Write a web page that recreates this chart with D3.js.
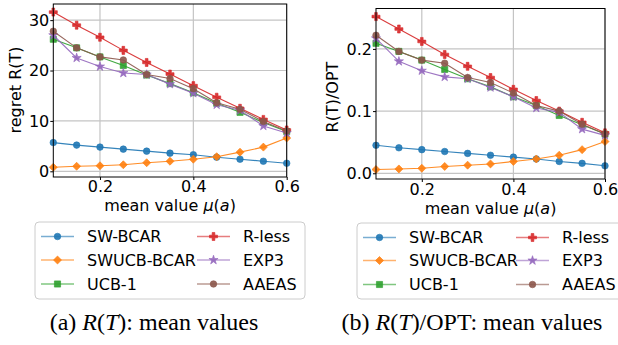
<!DOCTYPE html>
<html><head><meta charset="utf-8">
<script src="https://cdn.jsdelivr.net/npm/d3@7"></script>
<style>body{margin:0;background:#fff}svg{display:block}</style>
</head><body>
<script>
const xs = [0.1,0.15,0.2,0.25,0.3,0.35,0.4,0.45,0.5,0.55,0.6];
const names = ["SW-BCAR","SWUCB-BCAR","UCB-1","R-less","EXP3","AAEAS"];
const colors = ["#1f77b4","#ff7f0e","#2ca02c","#d62728","#9467bd","#8c564b"];
const markers = ["circle","diamond","square","plus","star","circle"];

// panel (a): regret R(T)
const regretSW = [5.7,5.2,4.8,4.4,4.0,3.6,3.3,2.8,2.4,2.0,1.6];
const regretSWUCB = [0.8,1.0,1.1,1.3,1.7,2.0,2.4,2.9,3.8,4.8,6.6];
const regretUCB = [26.2,24.5,22.7,21.0,19.1,17.4,15.6,13.5,11.7,9.7,7.9];
const regretRless = [31.6,29.0,26.6,24.0,21.6,19.3,17.0,14.7,12.5,10.3,8.2];
const regretEXP3 = [27.0,22.5,20.8,19.5,19.2,17.3,15.5,13.2,12.1,9.0,7.6];
const regretAAEAS = [27.8,24.5,22.7,22.1,19.2,18.4,16.4,13.6,12.3,9.9,8.0];

// panel (b): R(T)/OPT
const ratioSW = [0.045,0.041,0.038,0.035,0.032,0.029,0.026,0.023,0.019,0.016,0.012];
const ratioSWUCB = [0.006,0.007,0.008,0.011,0.013,0.015,0.019,0.023,0.029,0.038,0.051];
const ratioUCB = [0.209,0.196,0.182,0.167,0.152,0.139,0.123,0.109,0.093,0.078,0.063];
const ratioRless = [0.252,0.232,0.212,0.191,0.172,0.154,0.135,0.117,0.100,0.082,0.065];
const ratioEXP3 = [0.217,0.180,0.165,0.155,0.152,0.138,0.123,0.105,0.098,0.071,0.061];
const ratioAAEAS = [0.222,0.196,0.182,0.177,0.154,0.146,0.129,0.109,0.100,0.079,0.063];

const xTicks = [0.2,0.4,0.6];
const yTicksA = [0,10,20,30];
const yTicksB = [0.0,0.1,0.2];

const W = 618, H = 345;
const svg = d3.select("body").append("svg").attr("width",W).attr("height",H)
  .style("font-family","'DejaVu Sans', sans-serif");

function markerPath(type){
  const sym = {circle:d3.symbolCircle, diamond:d3.symbolSquare, square:d3.symbolSquare,
               plus:d3.symbolCross, star:d3.symbolStar}[type];
  const size = {circle:34, diamond:32, square:38, plus:36, star:26}[type];
  return d3.symbol().type(sym).size(size)();
}
function drawMarker(g, type, color, x, y){
  g.append("path").attr("d", markerPath(type))
    .attr("transform", `translate(${x},${y})` + (type==="diamond" ? " rotate(45)" : ""))
    .attr("fill", color).attr("fill-opacity",0.9).attr("stroke", color).attr("stroke-width",0.6);
}

function panel(opts){
  const {x0,x1,y0,y1,yDomain,yTicks,yFmt,series,ylabel,ylabelX,ylabelY,xlabelY,xtickGap} = opts;
  const x = d3.scaleLinear().domain([0.1,0.6]).range([x0,x1]);
  const y = d3.scaleLinear().domain(yDomain).range([y1,y0]);
  const g = svg.append("g");
  // grid
  g.selectAll(".gx").data(xTicks).enter().append("line")
    .attr("x1",d=>x(d)).attr("x2",d=>x(d)).attr("y1",y0).attr("y2",y1)
    .attr("stroke","#c4c4c4").attr("stroke-width",1.2);
  g.selectAll(".gy").data(yTicks).enter().append("line")
    .attr("x1",x0).attr("x2",x1).attr("y1",d=>y(d)).attr("y2",d=>y(d))
    .attr("stroke","#c4c4c4").attr("stroke-width",1.2);
  // series
  const sg = g.append("g");
  series.forEach((vals,i)=>{
    const line = d3.line().x((d,j)=>x(xs[j])).y(d=>y(d));
    sg.append("path").attr("d",line(vals)).attr("fill","none")
      .attr("stroke",colors[i]).attr("stroke-width",1.1).attr("stroke-opacity",0.9);
    vals.forEach((v,j)=>drawMarker(sg, markers[i], colors[i], x(xs[j]), y(v)));
  });
  // frame
  g.append("rect").attr("x",x0).attr("y",y0).attr("width",x1-x0).attr("height",y1-y0)
    .attr("fill","none").attr("stroke","#000").attr("stroke-width",1);
  // axes
  const ax = g.append("g").attr("transform",`translate(0,${y1})`)
    .call(d3.axisBottom(x).tickValues(xTicks).tickFormat(d3.format(".1f")).tickSize(3).tickPadding(xtickGap));
  const ay = g.append("g").attr("transform",`translate(${x0},0)`)
    .call(d3.axisLeft(y).tickValues(yTicks).tickFormat(yFmt).tickSize(3).tickPadding(1));
  [ax,ay].forEach(a=>{
    a.select(".domain").remove();
    a.selectAll("text").attr("font-size",16).attr("font-family","'DejaVu Sans', sans-serif").attr("fill","#000");
    a.selectAll("line").attr("stroke","#000");
  });
  // labels
  g.append("text").attr("transform",`translate(${ylabelX},${ylabelY}) rotate(-90)`)
    .attr("text-anchor","middle").attr("font-size",16).text(ylabel);
  const xl = g.append("text").attr("x",(x0+x1)/2).attr("y",xlabelY).attr("text-anchor","middle").attr("font-size",16);
  xl.append("tspan").text("mean value ");
  xl.append("tspan").attr("font-style","italic").text("μ");
  xl.append("tspan").text("(");
  xl.append("tspan").attr("font-style","italic").text("a");
  xl.append("tspan").text(")");
}

panel({x0:53.3,x1:286.7,y0:4,y1:177,yDomain:[-1.13,33.2],yTicks:yTicksA,yFmt:d3.format("d"),
  series:[regretSW,regretSWUCB,regretUCB,regretRless,regretEXP3,regretAAEAS],
  ylabel:"regret R(T)",ylabelX:20.5,ylabelY:90,xlabelY:211,xtickGap:1});
panel({x0:376,x1:605,y0:8.5,y1:179,yDomain:[-0.0092,0.265],yTicks:yTicksB,yFmt:d3.format(".1f"),
  series:[ratioSW,ratioSWUCB,ratioUCB,ratioRless,ratioEXP3,ratioAAEAS],
  ylabel:"R(T)/OPT",ylabelX:338,ylabelY:97,xlabelY:214,xtickGap:2});

function legend(bx,by,bw,bh,lx1,lx2,rows){
  const g = svg.append("g");
  g.append("rect").attr("x",bx).attr("y",by).attr("width",bw).attr("height",bh).attr("rx",4)
    .attr("fill","#fff").attr("fill-opacity",0.8).attr("stroke","#cccccc").attr("stroke-width",1);
  names.forEach((n,i)=>{
    const col = i<3 ? 0 : 1, row = i%3;
    const lx = col===0 ? lx1 : lx2;
    const yy = rows[row];
    g.append("line").attr("x1",lx).attr("x2",lx+33).attr("y1",yy).attr("y2",yy)
      .attr("stroke",colors[i]).attr("stroke-width",1.3).attr("stroke-opacity",0.6);
    drawMarker(g, markers[i], colors[i], lx+16.5, yy);
    g.append("text").attr("x",lx+46).attr("y",yy+5.8).attr("font-size",16).text(n);
  });
}
legend(35,222,270,77,41,197,[236.5,260,284]);
legend(357,223,270,76,363,516,[237.5,260.5,284.5]);

function caption(cx,label,extra){
  const t = svg.append("text").attr("x",cx).attr("y",330).attr("text-anchor","middle")
    .attr("font-family","'Liberation Serif', 'DejaVu Serif', serif").attr("font-size",24);
  t.append("tspan").text(label+" ");
  t.append("tspan").attr("font-style","italic").text("R");
  t.append("tspan").text("(");
  t.append("tspan").attr("font-style","italic").text("T");
  t.append("tspan").text(")"+extra+": mean values");
}
caption(154,"(a)","");
caption(472,"(b)","/OPT");
</script>
</body></html>
